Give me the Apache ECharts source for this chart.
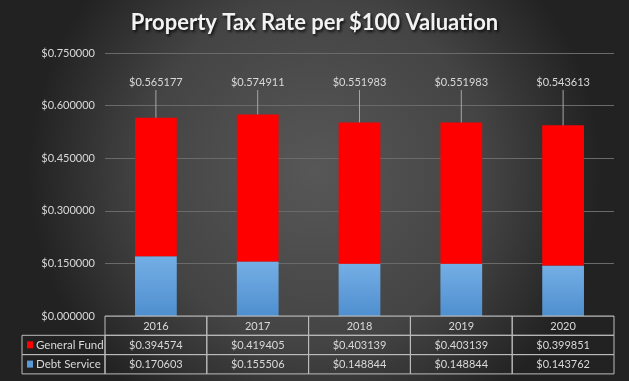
<!DOCTYPE html>
<html><head><meta charset="utf-8">
<script src="https://cdn.jsdelivr.net/npm/echarts@6/dist/echarts.min.js"></script>
<style>html,body{margin:0;padding:0;background:#333;}#c{width:629px;height:381px;}</style>
</head><body><div id="c"></div>
<script>
var categories = ['2016','2017','2018','2019','2020'];
var generalFund = [0.394574, 0.419405, 0.403139, 0.403139, 0.399851];
var debtService = [0.170603, 0.155506, 0.148844, 0.148844, 0.143762];
var totals = [0.565177, 0.574911, 0.551983, 0.551983, 0.543613];
var seriesNames = ['General Fund', 'Debt Service'];
var yTicks = [0, 0.15, 0.30, 0.45, 0.60, 0.75];

var FONT = 'Lato';
var TXT = '#d9d9d9';
var BORDER = '#bcbcbc';
var RED = '#ff0000';
var BLUE = '#5b9bd5';
function money(v){ return '$' + v.toFixed(6); }

var chart = echarts.init(document.getElementById('c'), null, {renderer:'canvas'});
var ROW = 19.3;

var option = {
  backgroundColor: {type:'radial', x:0.5, y:0.45, r:0.75,
    colorStops:[{offset:0,color:'#575757'},{offset:0.6,color:'#444444'},{offset:1,color:'#222222'}]},
  animation: false,
  title: {
    text: 'Property Tax Rate per $100 Valuation',
    left: 'center', top: 7,
    textStyle: {color:'#f2f2f2', fontFamily: FONT, fontWeight:'bold', fontSize:22,
      textShadowColor:'rgba(0,0,0,0.8)', textShadowBlur:3, textShadowOffsetX:1.5, textShadowOffsetY:1.5}
  },
  grid: {left:105, right:15, top:53, bottom:65},
  xAxis: {type:'category', data: categories, axisLine:{show:false}, axisTick:{show:false}, axisLabel:{show:false}},
  yAxis: {type:'value', min: yTicks[0], max: yTicks[yTicks.length-1], interval: 0.15,
    axisLine:{show:false}, axisTick:{show:false},
    splitLine:{lineStyle:{color:'#6a6a6a', width:1}},
    axisLabel:{color:TXT, fontFamily:FONT, fontSize:11, margin:10, formatter: money}},
  series: [
    {name: seriesNames[1], type:'bar', stack:'t', data: debtService, barWidth:'41%',
      itemStyle:{color:{type:'linear',x:0,y:0,x2:0,y2:1,colorStops:[{offset:0,color:'#74aee5'},{offset:1,color:'#4f8fcf'}]}}},
    {name: seriesNames[0], type:'bar', stack:'t', data: generalFund, barWidth:'41%',
      itemStyle:{color: RED}},
    {type:'custom', clip:false, silent:true, z:5,
      data: totals.map(function(v,i){return [i,v];}),
      renderItem: function(params, api){
        var p = api.coord([api.value(0), api.value(1)]);
        var top = api.coord([api.value(0), 0.75])[1];
        var ly = top + 29;
        return {type:'group', children:[
          {type:'line', shape:{x1:p[0], y1:ly+8, x2:p[0], y2:p[1]}, style:{stroke:'#a6a6a6', lineWidth:1}},
          {type:'text', style:{text: money(api.value(1)), x:p[0], y:ly, align:'center', verticalAlign:'middle',
            fill:TXT, font:'11px '+FONT}}
        ]};
      }
    },
    {type:'custom', clip:false, silent:true, z:5,
      data: categories.map(function(c,i){return [i];}),
      renderItem: function(params, api){
        var i = api.value(0);
        var p = api.coord([i, 0]);
        var w = api.size([1,0])[0];
        var x0 = p[0] - w/2, y0 = p[1];
        var ch = [];
        var rows = [categories[i], money(generalFund[i]), money(debtService[i])];
        for (var r=0;r<3;r++){
          ch.push({type:'rect', shape:{x:x0, y:y0+r*ROW, width:w, height:ROW},
            style:{fill:'none', stroke:BORDER, lineWidth:1}});
          ch.push({type:'text', style:{text: rows[r], x:p[0], y:y0+r*ROW+ROW/2+0.5, align:'center', verticalAlign:'middle',
            fill:TXT, font:'11px '+FONT}});
        }
        if (i === 0) {
          var lx = 22;
          var cols = [RED, BLUE];
          for (var k=0;k<2;k++){
            var ry = y0+(k+1)*ROW;
            ch.push({type:'rect', shape:{x:lx, y:ry, width:x0-lx, height:ROW},
              style:{fill:'none', stroke:BORDER, lineWidth:1}});
            ch.push({type:'rect', shape:{x:lx+5, y:ry+6, width:6, height:7}, style:{fill:cols[k]}});
            ch.push({type:'text', style:{text: seriesNames[k], x:lx+14, y:ry+ROW/2, align:'left', verticalAlign:'middle',
              fill:TXT, font:'11.5px '+FONT}});
          }
        }
        return {type:'group', children: ch};
      }
    }
  ]
};
chart.setOption(option);
</script></body></html>
